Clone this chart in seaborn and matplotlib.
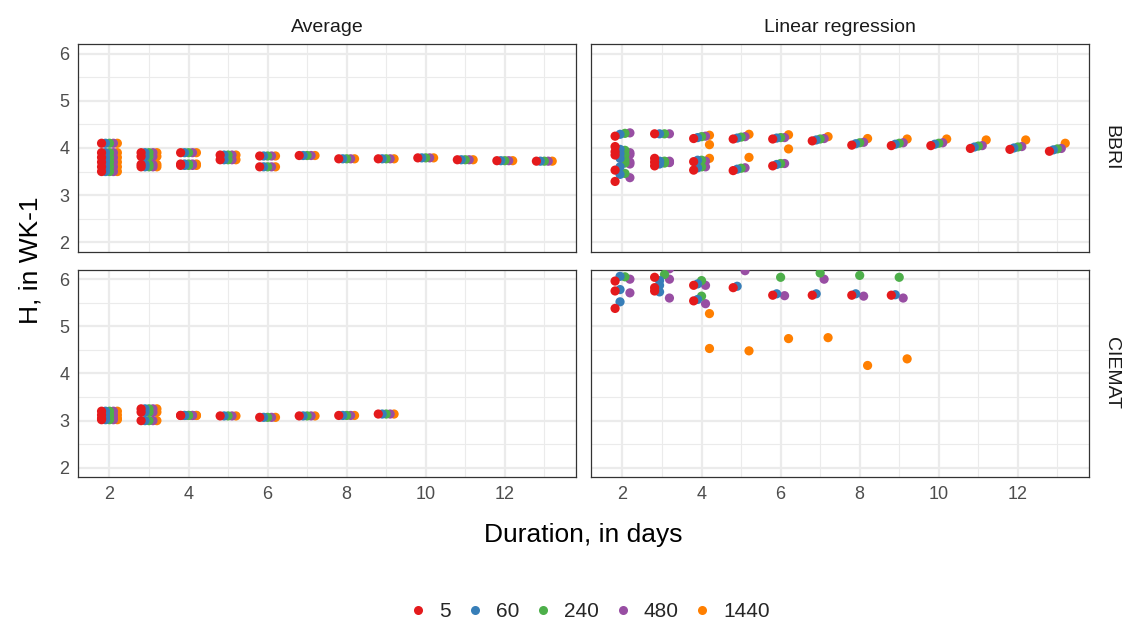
import numpy as np
import pandas as pd
import matplotlib
matplotlib.use("Agg")
import matplotlib.pyplot as plt
import seaborn as sns
from matplotlib.lines import Line2D
from matplotlib.ticker import MultipleLocator

nan = np.nan

# time steps (minutes) and Set1 colours
steps = ["5", "60", "240", "480", "1440"]
colors = ["#E41A1C", "#377EB8", "#4DAF4A", "#984EA3", "#FF7F00"]

# --- BBRI: one value per analysis window ---
bbri_dur = [2, 2, 2, 2, 2, 2, 3, 3, 3, 3, 4, 4, 4, 5, 5, 6, 6, 7, 8, 9, 10, 11, 12, 13]
bbri_avg = [4.10, 3.90, 3.80, 3.70, 3.60, 3.50, 3.90, 3.82, 3.65, 3.60, 3.90, 3.66, 3.63,
            3.85, 3.75, 3.83, 3.60, 3.84, 3.77, 3.77, 3.79, 3.75, 3.73, 3.72]
bbri_lr_5 = [4.25, 4.03, 3.92, 3.85, 3.53, 3.29, 4.30, 3.78, 3.70, 3.62, 4.20, 3.71, 3.53,
             4.19, 3.52, 4.19, 3.62, 4.15, 4.06, 4.05, 4.05, 3.99, 3.97, 3.93]
bbri_lr_60 = [4.29, 3.97, 3.88, 3.78, 3.60, 3.44, 4.30, 3.72, 3.71, 3.66, 4.22, 3.74, 3.58,
              4.21, 3.55, 4.21, 3.65, 4.17, 4.09, 4.08, 4.08, 4.02, 4.00, 3.96]
bbri_lr_240 = [4.31, 3.95, 3.86, 3.75, 3.68, 3.46, 4.30, 3.72, 3.71, 3.68, 4.24, 3.74, 3.60,
               4.23, 3.57, 4.22, 3.67, 4.19, 4.11, 4.10, 4.10, 4.04, 4.02, 3.98]
bbri_lr_480 = [4.32, 3.90, 3.86, 3.70, 3.66, 3.37, 4.30, 3.72, 3.70, 3.69, 4.25, 3.72, 3.60,
               4.24, 3.58, 4.22, 3.67, 4.20, 4.12, 4.11, 4.11, 4.05, 4.03, 3.99]
bbri_lr_1440 = [nan, nan, nan, nan, nan, nan, nan, nan, nan, nan, 4.27, 4.07, 3.78,
                4.29, 3.80, 4.28, 3.98, 4.24, 4.20, 4.19, 4.19, 4.17, 4.17, 4.10]

# --- CIEMAT ---
ciemat_dur = [2, 2, 2, 2, 3, 3, 3, 4, 4, 5, 6, 7, 8, 9]
ciemat_avg = [3.20, 3.12, 3.05, 3.02, 3.25, 3.18, 3.00, 3.11, 3.11, 3.10, 3.07, 3.10, 3.11, 3.14]
ciemat_lr_5 = [5.96, 5.75, 5.38, 6.35, 6.04, 5.82, 5.75, 5.87, 5.54, 5.82, 5.66, 5.66, 5.66, 5.66]
ciemat_lr_60 = [6.06, 5.78, 5.52, 6.40, 5.97, 5.87, 5.73, 5.90, 5.57, 5.85, 5.69, 5.69, 5.69, 5.67]
ciemat_lr_240 = [6.05, 6.30, 6.35, 6.45, 6.10, 6.30, 6.30, 5.97, 5.64, 6.30, 6.04, 6.13, 6.08, 6.04]
ciemat_lr_480 = [6.00, 5.71, 6.30, 6.40, 6.22, 6.00, 5.60, 5.87, 5.48, 6.18, 5.65, 6.00, 5.64, 5.60]
ciemat_lr_1440 = [nan, nan, nan, nan, nan, nan, nan, 5.27, 4.53, 4.48, 4.74, 4.76, 4.17, 4.31]

sites = ["BBRI", "CIEMAT"]
methods = ["Average", "Linear regression"]

rows = []
def add(site, method, durs, vals, step):
    for d, v in zip(durs, vals):
        rows.append(dict(site=site, method=method, duration=d, step=step, H=v))

for s in steps:
    add("BBRI", "Average", bbri_dur, bbri_avg, s)
    add("CIEMAT", "Average", ciemat_dur, ciemat_avg, s)
for s, b, c in zip(steps,
                   [bbri_lr_5, bbri_lr_60, bbri_lr_240, bbri_lr_480, bbri_lr_1440],
                   [ciemat_lr_5, ciemat_lr_60, ciemat_lr_240, ciemat_lr_480, ciemat_lr_1440]):
    add("BBRI", "Linear regression", bbri_dur, b, s)
    add("CIEMAT", "Linear regression", ciemat_dur, c, s)

df = pd.DataFrame(rows).dropna(subset=["H"]).reset_index(drop=True)

# dodge like ggplot: spread the steps present at each duration over width 0.5
df["x"] = df["duration"].astype(float)
for key, g in df.groupby(["site", "method", "duration"]):
    present = [s for s in steps if s in g["step"].values]
    n = len(present)
    for i, s in enumerate(present):
        idx = g.index[g["step"] == s]
        df.loc[idx, "x"] += (i - (n - 1) / 2) * 0.5 / n

# later steps drawn first so the 5-min points sit on top
df["order"] = df["step"].map({s: i for i, s in enumerate(steps)})
df = df.sort_values("order", ascending=False, kind="stable")

sns.set_theme(style="white")
plt.rcParams["font.family"] = ["Liberation Sans", "DejaVu Sans"]
pal = dict(zip(steps, colors))

fig, axes = plt.subplots(2, 2, figsize=(11.28, 6.23), dpi=100, sharex=True, sharey=True)
fig.subplots_adjust(left=0.069, right=0.9654, top=0.929, bottom=0.234, wspace=0.03, hspace=0.087)

for r, site in enumerate(sites):
    for c, method in enumerate(methods):
        ax = axes[r, c]
        sub = df[(df["site"] == site) & (df["method"] == method)]
        sns.scatterplot(data=sub, x="x", y="H", hue="step", hue_order=steps, palette=pal,
                        s=44, linewidth=0, alpha=1, legend=False, ax=ax, zorder=3)
        ax.set_xlim(1.2, 13.8)
        ax.set_ylim(1.8, 6.2)
        ax.xaxis.set_major_locator(MultipleLocator(2))
        ax.xaxis.set_minor_locator(MultipleLocator(1))
        ax.yaxis.set_major_locator(MultipleLocator(1))
        ax.yaxis.set_minor_locator(MultipleLocator(0.5))
        ax.grid(which="major", color="#EBEBEB", lw=1.6)
        ax.grid(which="minor", color="#EBEBEB", lw=0.8)
        ax.set_axisbelow(True)
        for sp in ax.spines.values():
            sp.set_color("#333333")
            sp.set_linewidth(0.9)
        ax.tick_params(which="major", length=4, width=0.9, color="#333333",
                       labelcolor="#4D4D4D", labelsize=13, pad=2)
        ax.tick_params(which="minor", length=0)
        ax.set_xlabel("")
        ax.set_ylabel("")
        if r == 0:
            ax.tick_params(axis="x", which="both", length=0)
            ax.set_title(method, fontsize=14, color="#1A1A1A", pad=9)
        if c == 1:
            ax.tick_params(axis="y", which="both", length=0)
            ax.annotate(site, xy=(1, 0.5), xycoords="axes fraction", xytext=(16, 0),
                        textcoords="offset points", rotation=-90, ha="center", va="center",
                        fontsize=14, color="#1A1A1A")

fig.text(0.517, 0.141, "Duration, in days", ha="center", va="center", fontsize=19, color="black")
fig.text(0.027, 0.582, "H, in WK-1", ha="center", va="center", rotation=90, fontsize=19, color="black")

handles = [Line2D([], [], ls="", marker="o", ms=6.5, mec="none", mfc=col) for col in colors]
fig.legend(handles, steps, loc="center", bbox_to_anchor=(0.523, 0.018), ncol=5, frameon=False,
           fontsize=15, handlelength=0.8, handletextpad=0.6, columnspacing=0.75)

fig.savefig("out.png", dpi=100)
